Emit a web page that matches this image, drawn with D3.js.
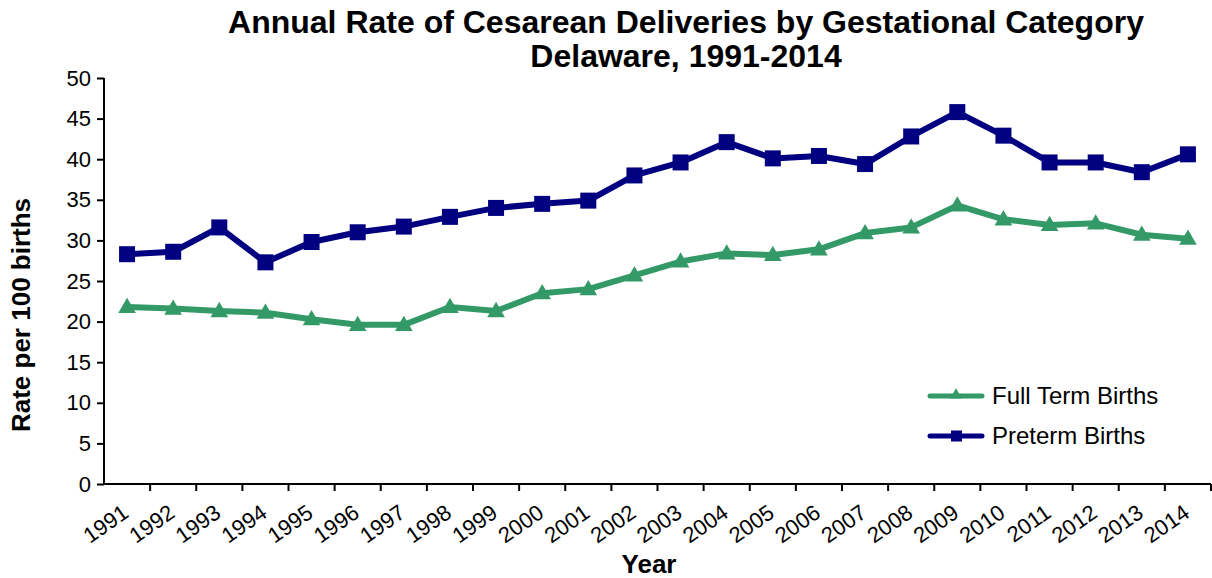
<!DOCTYPE html>
<html>
<head>
<meta charset="utf-8">
<script src="https://cdn.jsdelivr.net/npm/d3@7"></script>
<style>
  body { margin: 0; background: #fff; }
  svg { display: block; font-family: "Liberation Sans", Arial, sans-serif; }
</style>
</head>
<body>
<div id="chart"></div>
<script>
// data
var years = ["1991","1992","1993","1994","1995","1996","1997","1998","1999","2000","2001","2002",
             "2003","2004","2005","2006","2007","2008","2009","2010","2011","2012","2013","2014"];
var fullTerm = [21.8, 21.6, 21.3, 21.1, 20.3, 19.6, 19.6, 21.8, 21.3, 23.5, 24.0, 25.7,
                27.4, 28.4, 28.2, 28.9, 30.9, 31.6, 34.3, 32.6, 31.9, 32.1, 30.7, 30.2];
var preterm  = [28.3, 28.6, 31.6, 27.3, 29.8, 31.0, 31.7, 32.9, 34.0, 34.5, 34.9, 38.0,
                39.6, 42.1, 40.1, 40.4, 39.4, 42.8, 45.8, 42.9, 39.6, 39.6, 38.4, 40.6];
var yTicks = [0, 5, 10, 15, 20, 25, 30, 35, 40, 45, 50];
var seriesNames = ["Full Term Births", "Preterm Births"];

var W = 1212, H = 578;
var margin = {top: 78, right: 1, bottom: 94, left: 104},
    width = W - margin.left - margin.right,
    height = H - margin.top - margin.bottom;

var green = "#339966", navy = "#000080";

var svg = d3.select("#chart").append("svg")
    .attr("width", W)
    .attr("height", H);

// title
svg.append("text")
    .attr("x", 686).attr("y", 33)
    .attr("text-anchor", "middle")
    .style("font-size", "32px").style("font-weight", "bold")
    .text("Annual Rate of Cesarean Deliveries by Gestational Category");
svg.append("text")
    .attr("x", 686).attr("y", 67)
    .attr("text-anchor", "middle")
    .style("font-size", "32px").style("font-weight", "bold")
    .text("Delaware, 1991-2014");

var g = svg.append("g")
    .attr("transform", "translate(" + margin.left + "," + margin.top + ")");

var x = d3.scaleBand().domain(years).range([0, width]);
var y = d3.scaleLinear().domain([0, 50]).range([height, 0]);

// y axis
var yAxis = g.append("g")
    .call(d3.axisLeft(y).tickValues(yTicks).tickSize(7).tickPadding(6));
yAxis.select(".domain").attr("stroke", "#000").attr("stroke-width", 2).attr("d", "M0," + height + "V0");
yAxis.selectAll(".tick line").attr("stroke", "#000").attr("stroke-width", 2);
yAxis.selectAll(".tick text").style("font-size", "22px").attr("fill", "#000");

// x axis: ticks on the band boundaries
var xAxis = g.append("g").attr("transform", "translate(0," + height + ")");
xAxis.append("line")
    .attr("x1", 0).attr("x2", width)
    .attr("stroke", "#000").attr("stroke-width", 2);
xAxis.selectAll(".xt")
    .data(years)
  .enter().append("line")
    .attr("class", "xt")
    .attr("x1", function(d) { return x(d) + x.bandwidth(); })
    .attr("x2", function(d) { return x(d) + x.bandwidth(); })
    .attr("y1", 0).attr("y2", 7)
    .attr("stroke", "#000").attr("stroke-width", 2);
xAxis.selectAll(".xl")
    .data(years)
  .enter().append("text")
    .attr("class", "xl")
    .attr("text-anchor", "end")
    .attr("transform", function(d) {
      return "translate(" + (x(d) + x.bandwidth() / 2 + 3) + "," + 32 + ") rotate(-35)";
    })
    .style("font-size", "22px")
    .text(function(d) { return d; });

// axis titles
svg.append("text")
    .attr("x", 649).attr("y", 573)
    .attr("text-anchor", "middle")
    .style("font-size", "26px").style("font-weight", "bold")
    .text("Year");
svg.append("text")
    .attr("transform", "translate(30,315) rotate(-90)")
    .attr("text-anchor", "middle")
    .style("font-size", "26px").style("font-weight", "bold")
    .text("Rate per 100 births");

var line = d3.line()
    .x(function(d, i) { return x(years[i]) + x.bandwidth() / 2; })
    .y(function(d) { return y(d); });

// preterm
g.append("path")
    .datum(preterm)
    .attr("fill", "none").attr("stroke", navy).attr("stroke-width", 6)
    .attr("stroke-linejoin", "round")
    .attr("d", line);
g.selectAll(".sq")
    .data(preterm)
  .enter().append("rect")
    .attr("class", "sq")
    .attr("x", function(d, i) { return x(years[i]) + x.bandwidth() / 2 - 8; })
    .attr("y", function(d) { return y(d) - 8; })
    .attr("width", 16).attr("height", 16)
    .attr("fill", navy);

// full term
g.append("path")
    .datum(fullTerm)
    .attr("fill", "none").attr("stroke", green).attr("stroke-width", 6)
    .attr("stroke-linejoin", "round")
    .attr("d", line);
var tri = d3.symbol().type(d3.symbolTriangle).size(135);
g.selectAll(".tri")
    .data(fullTerm)
  .enter().append("path")
    .attr("class", "tri")
    .attr("transform", function(d, i) {
      return "translate(" + (x(years[i]) + x.bandwidth() / 2) + "," + (y(d) + 1) + ")";
    })
    .attr("d", tri)
    .attr("fill", green);

// legend
var legend = svg.append("g");
var legItems = [
  {name: seriesNames[0], color: green, y: 396, shape: "tri"},
  {name: seriesNames[1], color: navy, y: 436, shape: "sq"}
];
legItems.forEach(function(it) {
  legend.append("line")
      .attr("x1", 930).attr("x2", 982)
      .attr("y1", it.y).attr("y2", it.y)
      .attr("stroke", it.color).attr("stroke-width", 5)
      .attr("stroke-linecap", "round");
  if (it.shape == "sq") {
    legend.append("rect")
        .attr("x", 951).attr("y", it.y - 5.5)
        .attr("width", 11).attr("height", 11)
        .attr("fill", it.color);
  } else {
    legend.append("path")
        .attr("transform", "translate(956," + (it.y - 1) + ")")
        .attr("d", d3.symbol().type(d3.symbolTriangle).size(60))
        .attr("fill", it.color);
  }
  legend.append("text")
      .attr("x", 992).attr("y", it.y)
      .attr("dy", "0.35em")
      .style("font-size", "24px")
      .text(it.name);
});
</script>
</body>
</html>
